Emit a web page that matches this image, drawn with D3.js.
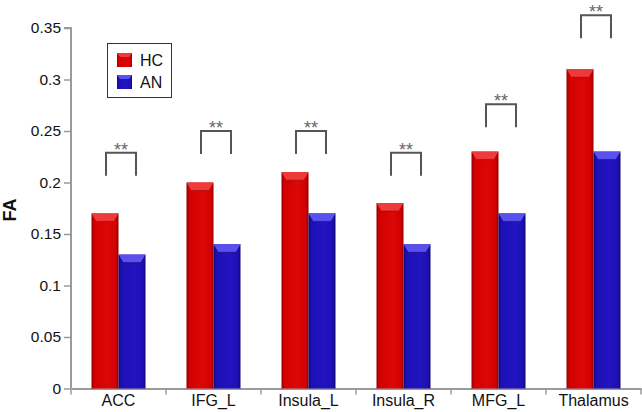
<!DOCTYPE html>
<html><head><meta charset="utf-8">
<script src="https://cdn.jsdelivr.net/npm/d3@7"></script>
<style>body{margin:0;background:#fff}svg{display:block;font-family:"Liberation Sans",Arial,sans-serif}</style>
</head><body><svg id="c" width="642" height="412"></svg>
<script>
const categories = ["ACC","IFG_L","Insula_L","Insula_R","MFG_L","Thalamus"];
const seriesNames = ["HC","AN"];
const hcValues = [0.17,0.20,0.21,0.18,0.23,0.31];
const anValues = [0.13,0.14,0.17,0.14,0.17,0.23];
const bracketTop = [0.229,0.25,0.25,0.229,0.276,0.3625];
const sigLabels = ["**","**","**","**","**","**"];
const yTicks = [0,0.05,0.1,0.15,0.2,0.25,0.3,0.35];

const svg = d3.select("#c");
const M = {l:71, r:641, t:28, b:388.5};
const x = d3.scaleBand().domain(categories).range([M.l, M.r]).paddingInner(0).paddingOuter(0);
const y = d3.scaleLinear().domain([0,0.35]).range([M.b, M.t]);
const barW = 27;

const defs = svg.append("defs");
const pal = {HC:{dark:"#8f0000",mid:"#d20000",light:"#dc0808",cap:"#ee3a3a"},
             AN:{dark:"#100870",mid:"#1c10b4",light:"#2214c0",cap:"#5a50ee"}};
seriesNames.forEach(s=>{
  const g = defs.append("linearGradient").attr("id","g"+s).attr("x1","0").attr("x2","1").attr("y1","0").attr("y2","0");
  g.append("stop").attr("offset","0").attr("stop-color",pal[s].dark);
  g.append("stop").attr("offset","0.1").attr("stop-color",pal[s].mid);
  g.append("stop").attr("offset","0.6").attr("stop-color",pal[s].light);
  g.append("stop").attr("offset","0.9").attr("stop-color",pal[s].mid);
  g.append("stop").attr("offset","1").attr("stop-color",pal[s].dark);
});

// axes
const yAxis = d3.axisLeft(y).tickValues(yTicks).tickSize(7).tickFormat(d=>d===0?"0":String(+d.toFixed(2)));
const gy = svg.append("g").attr("transform",`translate(${M.l},0)`).call(yAxis);
gy.select(".domain").attr("stroke","#9a9a9a").attr("stroke-width",2).attr("d",`M-7,${M.t}H0V${M.b}`);
gy.selectAll(".tick line").attr("stroke","#9a9a9a").attr("stroke-width",1.5);
gy.selectAll(".tick text").attr("font-size",15.5).attr("fill","#111").attr("x",-10).attr("font-family","Liberation Sans, Arial, sans-serif");

const xAxis = d3.axisBottom(x).tickSize(0).tickPadding(6);
const gx = svg.append("g").attr("transform",`translate(0,${M.b})`).call(xAxis);
gx.select(".domain").attr("stroke","#9a9a9a").attr("stroke-width",2);
gx.selectAll(".tick text").attr("font-size",16).attr("fill","#111").attr("font-family","Liberation Sans, Arial, sans-serif");
// boundary ticks
const bounds = categories.map(c=>x(c)).concat([x(categories[categories.length-1])+x.bandwidth()]);
gx.selectAll("line.bt").data(bounds).enter().append("line").attr("class","bt")
  .attr("x1",d=>d).attr("x2",d=>d).attr("y1",0).attr("y2",6).attr("stroke","#9a9a9a").attr("stroke-width",1.5);

// y label
svg.append("text").attr("transform","translate(16,210) rotate(-90)").attr("text-anchor","middle")
  .attr("font-size",18).attr("font-weight","bold").attr("fill","#111").text("FA");

// bars
const data = [];
categories.forEach((c,i)=>{
  data.push({c, s:"HC", v:hcValues[i], off:-barW});
  data.push({c, s:"AN", v:anValues[i], off:0});
});
const bars = svg.append("g").selectAll("g").data(data).enter().append("g");
bars.append("rect")
  .attr("x",d=>x(d.c)+x.bandwidth()/2+d.off)
  .attr("y",d=>y(d.v)).attr("width",barW).attr("height",d=>y(0)-y(d.v))
  .attr("fill",d=>`url(#g${d.s})`);
bars.append("path").attr("fill",d=>pal[d.s].cap)
  .attr("d",d=>{
    const x0 = x(d.c)+x.bandwidth()/2+d.off, yt = y(d.v);
    return `M${x0},${yt}H${x0+barW}L${x0+barW-5},${yt+8}H${x0+5}Z`;
  });
bars.append("path").attr("fill","none").attr("stroke",d=>pal[d.s].dark).attr("stroke-opacity",0.5).attr("stroke-width",1)
  .attr("d",d=>{
    const x0 = x(d.c)+x.bandwidth()/2+d.off, yt = y(d.v);
    return `M${x0+5},${yt+8}H${x0+barW-5}`;
  });

// significance brackets
const br = svg.append("g");
categories.forEach((c,i)=>{
  const cx = x(c)+x.bandwidth()/2;
  const xa = cx - barW/2 + 1, xb = cx + barW/2 + 4;
  const yt = y(bracketTop[i]), yb = yt + 23;
  br.append("path").attr("d",`M${xa},${yb}V${yt}H${xb}V${yb}`)
    .attr("fill","none").attr("stroke","#555").attr("stroke-width",2);
  br.append("text").attr("x",(xa+xb)/2).attr("y",yt+3).attr("text-anchor","middle")
    .attr("font-size",18).attr("fill","#666").text(sigLabels[i]);
});

// legend
const lg = svg.append("g");
lg.append("rect").attr("x",107.5).attr("y",43.5).attr("width",64).attr("height",54)
  .attr("fill","#fff").attr("stroke","#333").attr("stroke-width",1);
seriesNames.forEach((s,i)=>{
  const yy = 53 + i*22;
  lg.append("rect").attr("x",117).attr("y",yy).attr("width",15).attr("height",14).attr("fill",`url(#g${s})`);
  lg.append("path").attr("fill",pal[s].cap).attr("d",`M117,${yy}H132L129,${yy+4}H120Z`);
  lg.append("text").attr("x",140).attr("y",yy+12.5).attr("font-size",16).attr("fill","#111").text(s);
});
</script></body></html>
